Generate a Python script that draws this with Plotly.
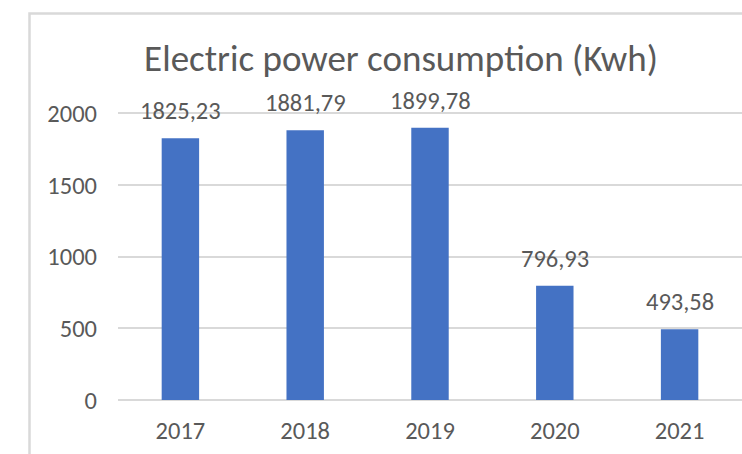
import plotly.graph_objects as go

years = ["2017", "2018", "2019", "2020", "2021"]
consumption = [1825.23, 1881.79, 1899.78, 796.93, 493.58]
y_ticks = [0, 500, 1000, 1500, 2000]
title_text = "Electric power consumption (Kwh)"

W, H = 742, 454
ML, MR, MT, MB = 118, 0, 109, 54
pw, ph = W - ML - MR, H - MT - MB

FONT = "Carlito, Lato, sans-serif"
GRAY = "#595959"

fig = go.Figure()
fig.add_trace(go.Bar(
    x=years, y=consumption,
    marker=dict(color="#4472C4", line=dict(width=0)),
    hoverinfo="skip",
))

for i, v in enumerate(consumption):
    fig.add_annotation(
        x=i, y=v, xref="x", yref="y",
        text=f"{v:.2f}".replace(".", ","),
        showarrow=False, yanchor="bottom", yshift=10,
        font=dict(family=FONT, size=24.5, color=GRAY),
    )

# outer chart border (cropped chart frame)
def px_x(p):
    return (p - ML) / pw

def px_y(p):
    return (H - MB - p) / ph

fig.add_shape(
    type="rect", xref="paper", yref="paper",
    x0=px_x(29.5), x1=px_x(760), y0=px_y(470), y1=px_y(13.5),
    line=dict(color="#d9d9d9", width=2.5), fillcolor="rgba(0,0,0,0)",
    layer="below",
)

fig.update_layout(
    width=W, height=H,
    margin=dict(l=ML, r=MR, t=MT, b=MB, autoexpand=False),
    paper_bgcolor="white", plot_bgcolor="white",
    bargap=0.7,
    showlegend=False,
    title=dict(
        text=title_text, x=401 / W, xanchor="center",
        y=1 - 58 / H, yanchor="middle", xref="container", yref="container",
        font=dict(family=FONT, size=37, color=GRAY),
    ),
    xaxis=dict(
        type="category",
        range=[-0.5, 4.5], showgrid=False, zeroline=False, showline=False,
        ticks="", ticklabelstandoff=13, automargin=False,
        tickfont=dict(family=FONT, size=24.5, color=GRAY),
    ),
    yaxis=dict(
        range=[0, 2030], tickvals=y_ticks, ticktext=[str(t) for t in y_ticks],
        showgrid=True, gridcolor="#d9d9d9", gridwidth=2,
        zeroline=True, zerolinecolor="#d9d9d9", zerolinewidth=2,
        showline=False, ticks="", ticklabelstandoff=20, automargin=False,
        tickfont=dict(family=FONT, size=24.5, color=GRAY),
    ),
)

fig.write_html("out.html", post_script="document.body.style.margin='0';",
               config={"displayModeBar": False})
